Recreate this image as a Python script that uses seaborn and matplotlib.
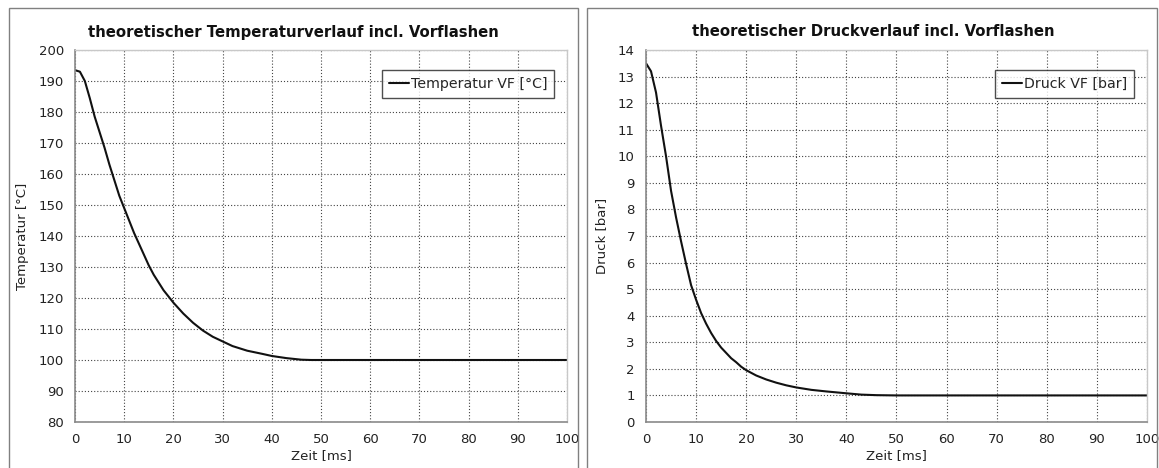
import numpy as np
import pandas as pd
import matplotlib
matplotlib.use("Agg")
import matplotlib.pyplot as plt
from matplotlib.patches import Rectangle
import seaborn as sns

# === data ===
zeit_T = [0, 1, 2, 3, 4, 5, 6, 7, 8, 9, 10, 11, 12, 13, 14, 15, 16, 17, 18, 19,
          20, 22, 24, 26, 28, 30, 32, 35, 38, 40, 43, 46, 48, 60, 80, 100]
temperatur = [193.5, 193, 190, 184.5, 178.5, 173.5, 168.5, 163, 158, 153, 149,
              145, 141, 137.5, 134, 130.5, 127.5, 125, 122.5, 120.5,
              118.5, 115, 112, 109.5, 107.5, 106, 104.5, 103, 102, 101.3, 100.6,
              100.1, 100, 100, 100, 100]

zeit_P = [0, 1, 2, 3, 4, 5, 6, 7, 8, 9, 10, 11, 12, 13, 14, 15, 16, 17, 18, 19,
          20, 22, 24, 26, 28, 30, 33, 36, 40, 43, 46, 50, 60, 80, 100]
druck = [13.5, 13.2, 12.4, 11.15, 10, 8.7, 7.7, 6.8, 5.95, 5.15, 4.6, 4.1, 3.7,
         3.35, 3.05, 2.8, 2.6, 2.4, 2.25, 2.08, 1.95, 1.75, 1.6, 1.48, 1.38, 1.3,
         1.21, 1.15, 1.08, 1.03, 1.01, 1.0, 1.0, 1.0, 1.0]

x_ticks = list(range(0, 101, 10))
t_ticks = list(range(80, 201, 10))
p_ticks = list(range(0, 15))

sns.set_style("white")
plt.rcParams['font.family'] = ['DejaVu Sans']

df_T = pd.DataFrame({'Zeit [ms]': zeit_T, 'Temperatur VF [°C]': temperatur})
df_P = pd.DataFrame({'Zeit [ms]': zeit_P, 'Druck VF [bar]': druck})

fig = plt.figure(figsize=(11.59, 4.68), dpi=100)
W, H = 1159, 468

# panel frames (pixel coords -> figure fraction)
for x0, x1 in [(9, 578), (587, 1157)]:
    fig.add_artist(Rectangle((x0 / W, -0.05), (x1 - x0) / W, 1.05 - 8 / H,
                             transform=fig.transFigure, fill=False,
                             edgecolor='#808080', linewidth=1.0))

ax1 = fig.add_axes([75 / W, 1 - 422 / H, (567 - 75) / W, (422 - 50) / H])
ax2 = fig.add_axes([646 / W, 1 - 422 / H, (1147 - 646) / W, (422 - 50) / H])


def style_axes(ax, df, ycol, yticks, ylabel, title, title_x):
    sns.lineplot(data=df, x='Zeit [ms]', y=ycol, ax=ax, color='#111111',
                 linewidth=1.5, label=ycol)
    ax.set_xlim(0, 100)
    ax.set_ylim(yticks[0], yticks[-1])
    ax.set_xticks(x_ticks)
    ax.set_yticks(yticks)
    ax.grid(True, color='#444444', linestyle=(0, (1, 1.8)), linewidth=0.8)
    ax.set_axisbelow(True)
    for s in ['left', 'bottom']:
        ax.spines[s].set_color('#8a8a8a')
        ax.spines[s].set_linewidth(1.2)
    for s in ['top', 'right']:
        ax.spines[s].set_color('#c8c8c8')
        ax.spines[s].set_linewidth(1.0)
    ax.tick_params(axis='both', direction='out', length=4, width=1,
                   color='#8a8a8a', labelsize=9.5, pad=4, labelcolor='#222222')
    ax.set_xlabel('Zeit [ms]', fontsize=9.5, labelpad=2, color='#222222')
    ax.set_ylabel(ylabel, fontsize=9.5, labelpad=7, color='#222222')
    leg = ax.legend(loc='upper right', bbox_to_anchor=(0.98, 0.955), fontsize=10.2,
                    frameon=True, fancybox=False, handlelength=1.4,
                    handletextpad=0.15, borderpad=0.5, borderaxespad=0.2)
    leg.get_frame().set_edgecolor('#222222')
    leg.get_frame().set_linewidth(1.0)
    leg._legend_box.align = 'left'
    fig.text(title_x, 1 - 32 / H, title, ha='center', va='center',
             fontsize=10.7, fontweight='bold', color='#111111')


style_axes(ax1, df_T, 'Temperatur VF [°C]', t_ticks, 'Temperatur [°C]',
           'theoretischer Temperaturverlauf incl. Vorflashen', 293 / W)
style_axes(ax2, df_P, 'Druck VF [bar]', p_ticks, 'Druck [bar]',
           'theoretischer Druckverlauf incl. Vorflashen', 873 / W)

fig.savefig('out.png', dpi=100)
